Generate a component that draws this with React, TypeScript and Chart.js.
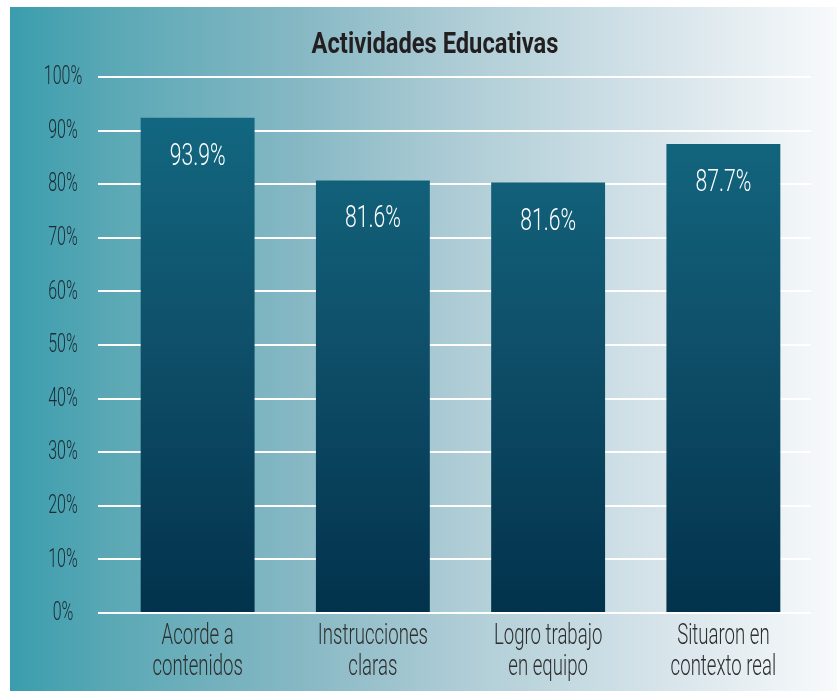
import React, { useEffect, useRef } from "react";
import { Chart, registerables } from "chart.js";

Chart.register(...registerables);

const categories: string[][] = [
  ["Acorde a", "contenidos"],
  ["Instrucciones", "claras"],
  ["Logro trabajo", "en equipo"],
  ["Situaron en", "contexto real"],
];
const barValues: number[] = [92.4, 80.7, 80.3, 87.5];
const valueLabels: string[] = ["93.9%", "81.6%", "81.6%", "87.7%"];
const yTicks: number[] = [0, 10, 20, 30, 40, 50, 60, 70, 80, 90, 100];
const titleText = "Actividades Educativas";

const FONT = "Roboto, 'Noto Sans', sans-serif";

function drawCondensed(ctx: CanvasRenderingContext2D, text: string, x: number, y: number, sx: number) {
  ctx.save();
  ctx.translate(x, y);
  ctx.scale(sx, 1);
  ctx.fillText(text, 0, 0);
  ctx.restore();
}

const bgPlugin = {
  id: "bgPlugin",
  beforeDraw(chart: any) {
    const { ctx, width, height } = chart;
    ctx.save();
    ctx.fillStyle = "#ffffff";
    ctx.fillRect(0, 0, width, height);
    const g = ctx.createLinearGradient(10, 0, width, 0);
    g.addColorStop(0, "#3a9dad");
    g.addColorStop(0.12, "#5aa8b5");
    g.addColorStop(0.35, "#86b8c4");
    g.addColorStop(0.55, "#afcdd6");
    g.addColorStop(0.8, "#d8e5eb");
    g.addColorStop(1, "#f8fafb");
    ctx.fillStyle = g;
    ctx.fillRect(10, 7, width - 10, height - 7);
    ctx.restore();
  },
};

const textPlugin = {
  id: "textPlugin",
  afterDraw(chart: any) {
    const { ctx, chartArea } = chart;
    const xScale = chart.scales.x;
    const yScale = chart.scales.y;
    const meta = chart.getDatasetMeta(0);
    ctx.save();
    ctx.textAlign = "center";

    // value labels inside bars
    ctx.fillStyle = "#ffffff";
    ctx.font = `300 32px ${FONT}`;
    ctx.textBaseline = "alphabetic";
    meta.data.forEach((bar: any, i: number) => {
      drawCondensed(ctx, valueLabels[i], bar.x, bar.y + 47, 0.66);
    });

    // y tick labels
    ctx.fillStyle = "#1c2a34";
    ctx.font = `300 25px ${FONT}`;
    ctx.textBaseline = "middle";
    yTicks.forEach((v) => {
      drawCondensed(ctx, `${v}%`, 63, yScale.getPixelForValue(v) + 1, 0.64);
    });

    // x category labels
    ctx.fillStyle = "#2f2f2f";
    ctx.font = `300 30px ${FONT}`;
    ctx.textBaseline = "alphabetic";
    categories.forEach((lines, i) => {
      const x = xScale.getPixelForTick(i);
      lines.forEach((line, j) => {
        drawCondensed(ctx, line, x, chartArea.bottom + 31 + j * 31, 0.62);
      });
    });

    // title
    ctx.fillStyle = "#231f20";
    ctx.font = `bold 30px ${FONT}`;
    drawCondensed(ctx, titleText, 435, 53, 0.79);
    ctx.restore();
  },
};

export default function App() {
  const ref = useRef<HTMLCanvasElement>(null);
  useEffect(() => {
    if (!ref.current) return;
    const chart = new Chart(ref.current, {
      type: "bar",
      data: {
        labels: categories,
        datasets: [
          {
            data: barValues,
            backgroundColor: (c: any) => {
              const ca = c.chart.chartArea;
              if (!ca) return "#0c4a66";
              const g = c.chart.ctx.createLinearGradient(0, ca.top, 0, ca.bottom);
              g.addColorStop(0, "#136b84");
              g.addColorStop(0.5, "#0f4f69");
              g.addColorStop(1, "#02324c");
              return g;
            },
            borderWidth: 0,
            barPercentage: 0.65,
            categoryPercentage: 1,
          },
        ],
      },
      options: {
        responsive: false,
        animation: false,
        devicePixelRatio: 1,
        layout: { padding: { top: 77, right: 26, left: 0, bottom: 0 } },
        plugins: {
          legend: { display: false },
          title: { display: false },
          tooltip: { enabled: false },
        },
        scales: {
          x: {
            grid: { display: false, drawTicks: false },
            border: { display: false },
            ticks: { display: false },
            afterFit(scale: any) {
              scale.height = 78;
            },
          },
          y: {
            min: 0,
            max: 100,
            afterBuildTicks(scale: any) {
              scale.ticks = yTicks.map((v) => ({ value: v }));
            },
            grid: {
              color: "#ffffff",
              lineWidth: 2,
              drawTicks: true,
              tickLength: 12,
            },
            border: { display: false },
            ticks: { display: false },
            afterFit(scale: any) {
              scale.width = 110;
            },
          },
        },
      },
      plugins: [bgPlugin, textPlugin],
    });
    return () => chart.destroy();
  }, []);
  return (
    <div style={{ position: "absolute", left: 0, top: 0, width: 837, height: 691 }}>
      <canvas ref={ref} width={837} height={691} style={{ width: 837, height: 691 }} />
    </div>
  );
}
